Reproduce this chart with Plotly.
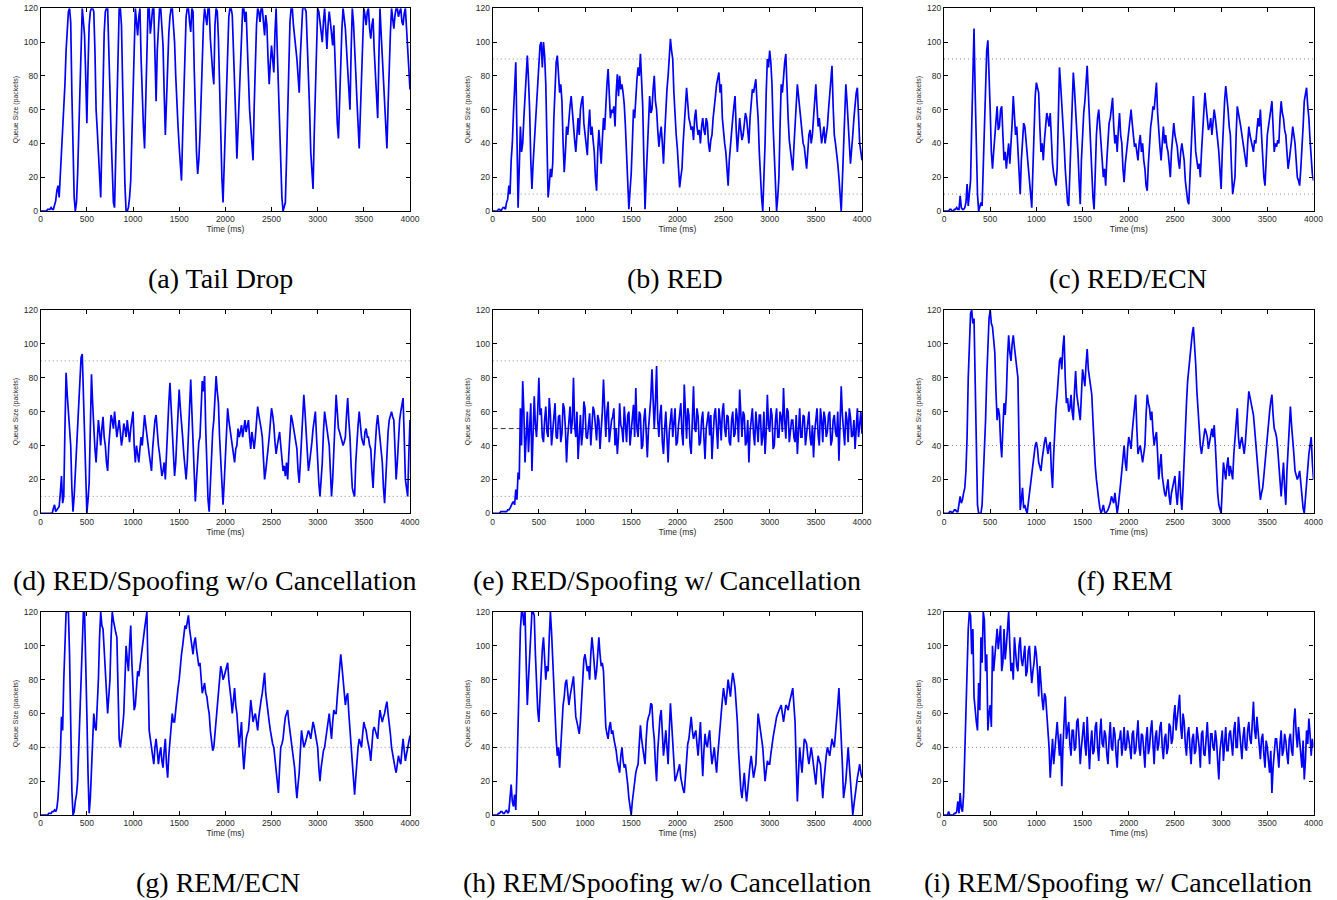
import plotly.graph_objects as go

TIME_END_MS = 4000
TIME_TICKS = [0, 500, 1000, 1500, 2000, 2500, 3000, 3500, 4000]
QUEUE_TICKS = [0, 20, 40, 60, 80, 100, 120]

tail_drop = [0, 0, 0, 0, 0, 0, 1, 1, 1, 2, 1, 1, 3, 6, 12, 15, 8, 20, 35, 45, 58, 75, 95, 110, 118, 120, 112, 70, 30, 8,
             0, 5, 22, 45, 75, 100, 120, 112, 104, 80, 52, 85, 110, 118, 120, 120, 118, 95, 60, 48, 35, 20, 8, 40, 80, 105, 118, 120, 120, 100,
             72, 45, 20, 5, 2, 30, 60, 95, 120, 120, 110, 75, 40, 15, 0, 0, 2, 8, 18, 45, 78, 100, 120, 112, 104, 115, 120, 90, 65, 50,
             37, 70, 100, 120, 120, 105, 112, 120, 120, 92, 65, 95, 110, 120, 120, 110, 98, 70, 45, 65, 90, 105, 115, 120, 120, 112, 100, 80, 62, 50,
             38, 25, 18, 45, 70, 95, 115, 120, 120, 112, 106, 120, 118, 85, 58, 35, 22, 30, 45, 72, 96, 110, 120, 115, 110, 120, 120, 102, 90, 82,
             75, 110, 120, 118, 102, 70, 40, 20, 5, 30, 52, 78, 100, 115, 120, 120, 116, 98, 80, 55, 31, 50, 70, 90, 110, 120, 120, 112, 118, 96,
             78, 60, 50, 40, 30, 62, 95, 110, 120, 118, 112, 120, 120, 110, 104, 116, 110, 90, 75, 88, 98, 90, 82, 105, 120, 95, 70, 45, 20, 8,
             0, 2, 5, 30, 60, 90, 112, 120, 120, 110, 104, 98, 90, 80, 70, 92, 112, 120, 120, 120, 118, 100, 85, 60, 35, 22, 13, 45, 75, 100,
             120, 118, 112, 104, 100, 112, 120, 108, 96, 110, 118, 112, 104, 98, 110, 88, 65, 52, 43, 70, 90, 108, 120, 115, 108, 96, 85, 72, 60, 95,
             120, 112, 100, 82, 66, 50, 37, 58, 78, 100, 120, 116, 110, 118, 120, 108, 102, 110, 114, 95, 80, 65, 55, 90, 120, 105, 90, 75, 60, 48,
             37, 62, 88, 105, 120, 112, 108, 116, 120, 120, 115, 118, 120, 112, 110, 117, 120, 108, 95, 85, 72]

red = [0, 0, 0, 0, 0, 1, 1, 0, 1, 2, 2, 1, 5, 7, 15, 10, 30, 40, 58, 75, 88, 45, 2, 25, 50, 35, 40, 55, 70, 85,
       92, 78, 60, 30, 13, 28, 40, 52, 62, 80, 90, 98, 100, 85, 100, 92, 75, 40, 8, 15, 25, 20, 28, 55, 78, 88, 92, 80, 70, 75,
       65, 40, 23, 35, 50, 45, 55, 62, 68, 58, 50, 42, 35, 48, 55, 45, 60, 65, 68, 52, 45, 38, 33, 50, 60, 45, 50, 42, 35, 20,
       12, 35, 48, 38, 28, 42, 55, 48, 65, 75, 84, 66, 55, 60, 58, 62, 50, 70, 81, 68, 80, 72, 75, 70, 63, 50, 35, 18, 1, 12,
       22, 40, 60, 55, 70, 78, 85, 80, 93, 75, 62, 30, 1, 20, 35, 55, 68, 58, 60, 72, 80, 65, 60, 48, 38, 45, 50, 40, 28, 45,
       65, 72, 80, 92, 102, 95, 90, 70, 55, 45, 37, 22, 14, 20, 25, 40, 55, 62, 73, 60, 55, 52, 48, 50, 42, 55, 60, 50, 45, 48,
       40, 50, 55, 48, 45, 55, 52, 40, 35, 42, 45, 55, 60, 68, 75, 78, 82, 70, 75, 55, 45, 40, 35, 25, 15, 30, 40, 50, 55, 62,
       68, 48, 35, 45, 55, 48, 42, 45, 50, 58, 55, 48, 40, 55, 65, 72, 70, 75, 78, 65, 55, 35, 20, 8, 0, 18, 40, 70, 90, 85,
       95, 88, 75, 50, 30, 10, 0, 8, 20, 50, 75, 70, 80, 88, 93, 70, 55, 42, 35, 30, 24, 38, 50, 62, 75, 68, 60, 52, 45, 40,
       38, 30, 25, 35, 45, 48, 40, 45, 55, 62, 75, 62, 50, 55, 48, 40, 45, 50, 40, 45, 50, 60, 70, 80, 86, 62, 45, 40, 35, 28,
       20, 8, 0, 18, 37, 55, 75, 65, 55, 40, 28, 35, 45, 55, 65, 70, 73, 55, 40, 35, 30]

red_ecn = [0, 0, 0, 0, 0, 1, 1, 0, 0, 1, 1, 2, 1, 1, 9, 2, 1, 1, 2, 5, 16, 3, 12, 18, 50, 85, 108, 70, 40, 10,
           0, 2, 5, 3, 30, 55, 80, 95, 101, 85, 60, 35, 25, 35, 45, 55, 62, 48, 50, 60, 62, 45, 30, 35, 25, 33, 40, 28, 38, 52,
           68, 55, 45, 50, 35, 20, 10, 30, 45, 52, 50, 42, 35, 25, 15, 8, 2, 25, 50, 68, 76, 72, 70, 50, 35, 40, 30, 42, 50, 58,
           55, 50, 58, 40, 28, 22, 18, 15, 25, 55, 85, 75, 65, 50, 40, 25, 12, 5, 3, 20, 40, 65, 82, 72, 60, 50, 35, 18, 4, 30,
           50, 58, 65, 78, 86, 70, 55, 38, 20, 8, 1, 25, 45, 55, 60, 50, 40, 28, 20, 25, 15, 30, 45, 52, 55, 60, 67, 50, 40, 45,
           35, 48, 58, 45, 40, 25, 17, 28, 35, 42, 50, 57, 60, 52, 45, 38, 40, 35, 30, 40, 45, 35, 40, 30, 25, 15, 12, 28, 40, 50,
           55, 62, 60, 68, 76, 58, 45, 38, 30, 42, 50, 40, 45, 38, 35, 28, 20, 35, 45, 52, 45, 42, 38, 30, 25, 35, 40, 35, 30, 18,
           10, 6, 4, 22, 40, 55, 68, 50, 35, 30, 25, 28, 20, 35, 45, 60, 70, 62, 55, 48, 50, 55, 45, 52, 60, 55, 50, 42, 35, 22,
           13, 35, 55, 65, 74, 68, 60, 50, 45, 25, 10, 15, 20, 45, 62, 58, 55, 50, 45, 40, 35, 30, 26, 40, 50, 45, 42, 38, 35, 42,
           40, 48, 55, 50, 60, 45, 30, 20, 15, 30, 45, 50, 55, 62, 65, 50, 35, 40, 38, 42, 40, 55, 65, 58, 55, 48, 45, 35, 25, 30,
           35, 42, 50, 45, 40, 30, 20, 18, 15, 25, 35, 50, 65, 70, 73, 62, 55, 42, 30, 22, 18]

red_spoof_nocancel = [0, 0, 0, 0, 0, 0, 0, 0, 0, 0, 0, 3, 5, 1, 2, 3, 4, 12, 22, 6, 10, 50, 83, 70, 60, 52, 40, 15, 1, 10,
                      25, 38, 50, 70, 86, 92, 94, 68, 40, 15, 0, 8, 18, 50, 82, 65, 50, 38, 30, 45, 55, 48, 40, 50, 57, 45, 40, 30, 25, 40,
                      50, 58, 55, 50, 60, 52, 45, 50, 55, 48, 40, 45, 53, 50, 45, 55, 48, 42, 50, 55, 60, 40, 30, 40, 35, 30, 38, 45, 40, 50,
                      58, 52, 45, 40, 35, 30, 25, 38, 48, 55, 58, 48, 40, 35, 30, 22, 25, 30, 20, 38, 55, 65, 77, 60, 50, 35, 22, 30, 45, 60,
                      73, 62, 55, 45, 35, 28, 20, 30, 45, 65, 79, 60, 40, 18, 7, 20, 35, 42, 45, 60, 78, 72, 81, 50, 20, 8, 1, 20, 40, 48,
                      55, 70, 81, 72, 65, 45, 30, 15, 5, 18, 35, 50, 62, 55, 50, 45, 40, 32, 30, 38, 40, 50, 45, 48, 52, 45, 50, 55, 48, 52,
                      55, 45, 38, 48, 42, 38, 45, 55, 63, 58, 55, 50, 45, 30, 20, 25, 30, 38, 45, 55, 62, 58, 52, 42, 35, 40, 45, 48, 40, 30,
                      25, 28, 22, 30, 20, 35, 50, 58, 55, 50, 48, 42, 38, 25, 18, 30, 45, 60, 70, 60, 50, 38, 25, 30, 35, 42, 50, 55, 60, 45,
                      30, 18, 10, 20, 30, 48, 60, 55, 50, 42, 40, 25, 10, 20, 35, 55, 70, 60, 50, 48, 45, 42, 40, 42, 45, 58, 68, 55, 45, 28,
                      15, 12, 10, 30, 45, 52, 60, 50, 45, 42, 40, 48, 50, 45, 45, 40, 38, 25, 15, 30, 45, 52, 58, 50, 45, 38, 30, 15, 6, 20,
                      35, 48, 55, 58, 60, 57, 55, 38, 20, 30, 45, 55, 60, 65, 68, 45, 20, 15, 10, 35, 55]

red_spoof_cancel = [0, 0, 0, 0, 0, 0, 0, 1, 1, 1, 1, 1, 1, 2, 2, 3, 5, 6, 7, 5,
                    14, 8, 24, 20, 62, 40, 78, 60, 30, 48, 60, 36, 52, 65, 25, 50, 69, 52, 45, 60,
                    80, 58, 62, 45, 42, 55, 63, 48, 45, 68, 58, 40, 48, 60, 65, 45, 44, 57, 58, 42,
                    47, 65, 62, 50, 30, 45, 58, 63, 47, 55, 80, 52, 45, 60, 32, 45, 58, 40, 48, 66,
                    62, 45, 44, 52, 59, 40, 50, 63, 60, 48, 43, 58, 55, 38, 47, 60, 79, 55, 45, 60,
                    66, 42, 48, 55, 57, 62, 40, 50, 35, 45, 65, 52, 50, 42, 63, 55, 42, 58, 60, 40,
                    47, 55, 64, 45, 74, 50, 45, 60, 58, 38, 40, 55, 62, 48, 33, 50, 58, 68, 85, 60,
                    50, 66, 87, 55, 45, 58, 64, 42, 35, 50, 60, 45, 30, 48, 58, 62, 45, 55, 62, 40,
                    42, 52, 57, 65, 47, 40, 76, 55, 44, 62, 58, 40, 35, 55, 75, 50, 48, 62, 57, 40,
                    42, 55, 60, 45, 32, 50, 55, 60, 46, 58, 32, 45, 58, 62, 48, 38, 62, 55, 43, 60,
                    65, 50, 45, 58, 57, 42, 40, 55, 60, 45, 47, 62, 56, 42, 73, 55, 45, 60, 58, 40,
                    42, 55, 30, 48, 55, 62, 47, 40, 60, 52, 42, 58, 58, 40, 45, 60, 35, 48, 70, 52,
                    48, 62, 58, 38, 40, 55, 62, 45, 45, 60, 57, 48, 74, 55, 44, 62, 60, 42, 47, 55,
                    55, 45, 42, 58, 35, 50, 62, 45, 45, 58, 57, 40, 48, 55, 60, 45, 40, 52, 33, 48,
                    58, 62, 46, 40, 62, 55, 42, 60, 56, 45, 48, 58, 60, 40, 43, 55, 58, 48, 45, 60,
                    31, 50, 75, 58, 48, 40, 60, 55, 42, 62, 57, 45, 46, 55, 38, 50, 62, 45, 55, 60,
                    47]

rem = [0, 0, 0, 0, 0, 1, 1, 0, 1, 2, 2, 1, 1, 5, 10, 6, 8, 12, 15, 25, 45, 80, 105, 118, 120, 112, 115, 80, 30, 5,
       0, 0, 0, 5, 20, 40, 55, 80, 100, 115, 120, 112, 110, 100, 95, 72, 55, 62, 58, 42, 33, 50, 65, 58, 70, 92, 105, 95, 90, 100,
       105, 98, 92, 85, 80, 40, 2, 8, 15, 3, 5, 2, 0, 6, 12, 18, 25, 30, 35, 40, 42, 38, 30, 28, 25, 32, 38, 42, 45, 38,
       35, 40, 42, 25, 15, 35, 50, 62, 70, 82, 90, 92, 85, 98, 105, 80, 65, 68, 60, 62, 70, 60, 55, 72, 84, 70, 65, 58, 55, 70,
       85, 80, 75, 88, 97, 85, 80, 75, 70, 55, 40, 28, 20, 12, 8, 3, 0, 2, 5, 1, 0, 1, 2, 4, 6, 10, 8, 6, 12, 5,
       0, 5, 10, 18, 25, 35, 40, 30, 25, 38, 45, 42, 38, 48, 55, 62, 70, 50, 35, 38, 40, 35, 30, 35, 40, 58, 70, 65, 62, 55,
       60, 48, 40, 45, 48, 35, 20, 28, 35, 22, 15, 12, 10, 15, 20, 10, 5, 12, 15, 18, 22, 12, 5, 15, 25, 10, 2, 15, 35, 50,
       65, 78, 85, 95, 100, 106, 110, 100, 88, 72, 60, 48, 40, 35, 40, 45, 50, 48, 45, 38, 42, 48, 50, 45, 52, 40, 25, 12, 5, 2,
       0, 15, 30, 25, 20, 28, 33, 22, 28, 24, 20, 35, 45, 55, 62, 45, 38, 42, 45, 40, 35, 42, 50, 62, 72, 68, 65, 60, 58, 50,
       42, 35, 28, 15, 8, 12, 15, 22, 30, 40, 48, 55, 60, 66, 70, 58, 50, 48, 45, 38, 30, 18, 10, 20, 30, 15, 5, 25, 40, 55,
       63, 52, 45, 35, 25, 22, 20, 22, 25, 18, 10, 3, 0, 10, 20, 28, 35, 40, 45, 30, 20]

rem_ecn = [0, 0, 0, 0, 0, 0, 0, 1, 1, 1, 2, 2, 3, 2, 4, 10, 22, 35, 58, 50, 80, 105, 120, 120, 120, 95, 50, 15, 0, 2,
           8, 12, 20, 40, 60, 90, 110, 120, 120, 95, 60, 25, 1, 10, 25, 45, 60, 52, 50, 65, 80, 105, 120, 112, 110, 98, 85, 70, 60, 70,
           80, 105, 120, 115, 110, 108, 105, 70, 45, 40, 45, 52, 60, 85, 100, 92, 85, 100, 112, 90, 70, 62, 65, 78, 85, 82, 88, 95, 100, 104,
           110, 115, 120, 85, 50, 45, 40, 35, 30, 40, 45, 38, 30, 36, 40, 32, 28, 38, 45, 30, 22, 35, 45, 52, 60, 55, 55, 62, 70, 75,
           80, 90, 95, 100, 105, 112, 110, 115, 118, 110, 104, 100, 95, 102, 105, 98, 92, 88, 90, 80, 72, 75, 78, 72, 70, 64, 60, 50, 42, 38,
           40, 48, 55, 65, 72, 80, 88, 85, 80, 82, 85, 88, 90, 80, 75, 68, 60, 68, 75, 65, 60, 50, 40, 48, 55, 38, 27, 36, 45, 48,
           50, 58, 68, 62, 55, 58, 60, 55, 50, 58, 65, 68, 72, 78, 84, 72, 65, 58, 55, 50, 45, 42, 40, 32, 25, 18, 13, 28, 40, 42,
           45, 52, 58, 60, 62, 55, 50, 44, 38, 32, 28, 18, 10, 18, 25, 38, 50, 45, 40, 42, 45, 48, 50, 48, 45, 50, 55, 52, 48, 44,
           40, 28, 20, 28, 35, 38, 40, 45, 50, 55, 60, 52, 45, 55, 62, 60, 60, 70, 78, 88, 95, 88, 80, 72, 65, 70, 72, 60, 50, 40,
           28, 18, 12, 22, 32, 40, 45, 42, 40, 48, 55, 52, 50, 45, 42, 38, 32, 42, 50, 52, 50, 48, 45, 55, 62, 58, 55, 58, 60, 64,
           67, 60, 55, 48, 40, 35, 32, 28, 25, 30, 35, 32, 30, 38, 45, 38, 32, 36, 40, 44, 47]

rem_spoof_nocancel = [0, 0, 0, 0, 0, 1, 1, 2, 2, 1, 1, 2, 3, 1, 2, 10, 18, 8, 5, 12, 3, 25, 55, 85, 110, 120, 120, 112, 120, 90,
                      65, 80, 95, 110, 120, 120, 118, 95, 75, 62, 55, 72, 90, 98, 105, 90, 80, 88, 85, 105, 120, 108, 90, 70, 55, 45, 35, 40, 28, 42,
                      60, 65, 70, 78, 80, 72, 65, 70, 75, 80, 82, 70, 58, 55, 50, 48, 55, 70, 85, 92, 95, 90, 85, 88, 80, 95, 105, 98, 90, 80,
                      85, 95, 105, 95, 88, 90, 85, 68, 52, 48, 45, 52, 55, 48, 50, 45, 42, 38, 32, 28, 25, 35, 40, 32, 28, 30, 25, 18, 10, 5,
                      0, 8, 15, 22, 25, 28, 30, 42, 53, 45, 40, 35, 30, 45, 55, 58, 60, 66, 65, 52, 45, 30, 20, 38, 50, 58, 62, 48, 35, 42,
                      50, 40, 30, 50, 66, 55, 45, 30, 20, 22, 25, 28, 30, 22, 18, 15, 13, 25, 35, 42, 45, 52, 58, 50, 45, 48, 50, 42, 35, 45,
                      55, 38, 23, 38, 48, 42, 40, 46, 50, 38, 30, 35, 40, 32, 25, 35, 45, 52, 60, 68, 75, 70, 65, 72, 80, 75, 70, 78, 84, 80,
                      75, 65, 55, 38, 22, 15, 10, 18, 25, 15, 8, 15, 25, 30, 35, 28, 22, 26, 30, 45, 60, 55, 50, 45, 40, 30, 20, 26, 32, 30,
                      30, 36, 42, 46, 50, 55, 58, 60, 62, 64, 65, 60, 55, 60, 65, 64, 62, 66, 70, 72, 75, 65, 55, 30, 8, 25, 40, 32, 25, 35,
                      45, 44, 42, 35, 30, 35, 40, 35, 30, 22, 18, 28, 35, 32, 30, 20, 10, 20, 30, 35, 40, 38, 35, 40, 45, 42, 40, 48, 55, 65,
                      75, 62, 50, 30, 10, 15, 20, 30, 40, 30, 20, 8, 0, 6, 12, 18, 22, 26, 30, 25, 22]

rem_spoof_cancel = [0, 0, 0, 0, 2, 0, 0, 0, 0, 1, 1, 2, 8, 1, 13, 4, 2, 12, 35, 58,
                    90, 110, 120, 118, 95, 110, 70, 60, 55, 50, 78, 62, 105, 90, 120, 115, 85, 95, 50, 60,
                    65, 52, 100, 85, 95, 104, 110, 98, 105, 112, 85, 90, 110, 92, 100, 108, 120, 100, 85, 90,
                    80, 105, 95, 88, 85, 100, 105, 92, 88, 95, 100, 82, 85, 97, 100, 88, 78, 85, 90, 100,
                    95, 85, 70, 88, 75, 68, 62, 72, 70, 60, 52, 40, 22, 35, 45, 30, 40, 50, 55, 45,
                    35, 48, 17, 40, 60, 70, 45, 52, 55, 42, 35, 50, 50, 38, 40, 55, 57, 45, 30, 40,
                    48, 55, 42, 35, 58, 45, 27, 42, 50, 36, 38, 52, 55, 40, 32, 48, 57, 42, 40, 50,
                    47, 36, 30, 45, 55, 40, 38, 52, 48, 36, 28, 44, 45, 50, 35, 42, 52, 38, 40, 50,
                    46, 40, 33, 48, 50, 36, 38, 47, 56, 40, 35, 48, 47, 38, 28, 45, 52, 36, 40, 50,
                    56, 42, 30, 46, 50, 38, 42, 52, 55, 40, 33, 45, 48, 36, 40, 54, 52, 42, 45, 58,
                    65, 50, 58, 62, 71, 52, 45, 60, 55, 42, 35, 48, 52, 40, 30, 45, 48, 36, 38, 52,
                    45, 40, 28, 48, 50, 36, 35, 45, 55, 42, 30, 48, 48, 40, 38, 50, 44, 32, 21, 38,
                    45, 50, 32, 42, 52, 38, 38, 48, 50, 42, 35, 50, 55, 40, 40, 58, 48, 38, 33, 46,
                    52, 40, 38, 50, 55, 45, 42, 55, 67, 50, 45, 58, 50, 40, 33, 45, 48, 36, 28, 44,
                    40, 32, 25, 38, 13, 28, 35, 45, 45, 38, 28, 42, 50, 35, 38, 48, 44, 36, 30, 45,
                    48, 38, 35, 55, 63, 48, 40, 52, 45, 36, 28, 44, 21, 32, 50, 42, 57, 48, 35, 45,
                    40]

captions = ["(a) Tail Drop", "(b) RED", "(c) RED/ECN",
            "(d) RED/Spoofing w/o Cancellation", "(e) RED/Spoofing w/ Cancellation", "(f) REM",
            "(g) REM/ECN", "(h) REM/Spoofing w/o Cancellation", "(i) REM/Spoofing w/ Cancellation"]
series = [tail_drop, red, red_ecn, red_spoof_nocancel, red_spoof_cancel, rem,
          rem_ecn, rem_spoof_nocancel, rem_spoof_cancel]
# threshold lines per panel: (value, style)
ref_lines = [[], [(10, "dot"), (90, "dot")], [(10, "dot"), (90, "dot")],
             [(10, "dot"), (90, "dot")], [(10, "dot"), (90, "dot"), (50, "dash")], [(40, "dot")],
             [(40, "dot")], [(40, "dot")], [(40, "dot")]]

W, H = 1337, 900
col_px = [(40.7, 410.0), (492.7, 862.0), (944.0, 1313.5)]
row_px = [(8.3, 211.0), (310.0, 513.3), (612.0, 815.0)]
cap_px = [(220, 278), (675, 278), (1128, 278),
          (215, 580), (667, 580), (1125, 580),
          (218, 882), (667, 882), (1118, 882)]

tick_font = dict(family="Liberation Sans, Arial, sans-serif", size=8.5, color="#2a2a2a")

fig = go.Figure()
layout = dict(width=W, height=H, margin=dict(l=0, r=0, t=0, b=0), autosize=False,
              paper_bgcolor="white", plot_bgcolor="white", showlegend=False,
              shapes=[], annotations=[])

for k in range(9):
    r, c = divmod(k, 3)
    sfx = "" if k == 0 else str(k + 1)
    data = series[k]
    step = TIME_END_MS / (len(data) - 1)
    t = [step * i for i in range(len(data))]
    fig.add_trace(go.Scatter(x=t, y=data, xaxis="x" + sfx, yaxis="y" + sfx, mode="lines",
                             line=dict(color="#0000ff", width=1.7), hoverinfo="skip"))
    x0, x1 = col_px[c]
    y0, y1 = row_px[r]
    layout["xaxis" + sfx] = dict(
        domain=[x0 / W, x1 / W], anchor="y" + sfx, range=[0, 4000],
        tickvals=TIME_TICKS, ticktext=[str(v) for v in TIME_TICKS],
        ticks="inside", ticklen=4, tickwidth=1, tickcolor="black",
        showline=True, linecolor="black", linewidth=1.2, mirror="ticks",
        showgrid=False, zeroline=False, automargin=False,
        tickfont=tick_font,
        title=dict(text="Time (ms)", font=tick_font, standoff=0))
    layout["yaxis" + sfx] = dict(
        domain=[1 - y1 / H, 1 - y0 / H], anchor="x" + sfx, range=[0, 120],
        tickvals=QUEUE_TICKS, ticktext=[str(v) for v in QUEUE_TICKS],
        ticks="inside", ticklen=4, tickwidth=1, tickcolor="black",
        showline=True, linecolor="black", linewidth=1.2, mirror="ticks",
        showgrid=False, zeroline=False, automargin=False,
        tickfont=tick_font,
        title=dict(text="Queue Size (packets)",
                   font=dict(family="Liberation Sans, Arial, sans-serif", size=7, color="#2a2a2a"),
                   standoff=4))
    for val, style in ref_lines[k]:
        is_dash = style == "dash"
        layout["shapes"].append(dict(
            type="line", xref="x" + sfx, yref="y" + sfx, x0=0, x1=4000, y0=val, y1=val,
            layer="below",
            line=dict(color="#333333" if is_dash else "#8c8c8c",
                      width=1, dash="5px,3px" if is_dash else "1px,3px")))
    cx, cy = cap_px[k]
    layout["annotations"].append(dict(
        text=captions[k], xref="paper", yref="paper", x=cx / W, y=1 - cy / H,
        xanchor="center", yanchor="middle", showarrow=False,
        font=dict(family="Liberation Serif, Times New Roman, serif", size=28, color="black")))

fig.update_layout(**layout)
fig.write_html("out.html", config={"displayModeBar": False},
               post_script="document.body.style.margin='0';")
